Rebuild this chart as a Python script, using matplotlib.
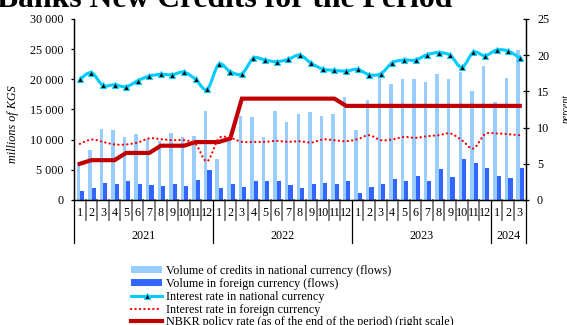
import matplotlib
matplotlib.use("Agg")
import matplotlib.pyplot as plt
from matplotlib.path import Path
from matplotlib.patches import PathPatch, Patch
from matplotlib.lines import Line2D
from matplotlib.transforms import blended_transform_factory
from matplotlib.ticker import FuncFormatter

plt.rcParams["font.family"] = ["Liberation Serif", "DejaVu Serif"]

# ---- data -------------------------------------------------------------
years = ["2021", "2022", "2023", "2024"]
months_per_year = [12, 12, 12, 3]
month_labels = [str(m) for n in months_per_year for m in range(1, n + 1)]

# new credits, millions of KGS
credits_national = [
    6200, 8370, 11740, 11580, 10360, 10900, 10100, 9800, 11100, 10470, 10580, 14700,
    6760, 10300, 13900, 13750, 10500, 14700, 13000, 14200, 14600, 13900, 14200, 17000,
    11650, 16500, 21000, 19200, 20050, 20050, 19500, 20900, 20000, 21200, 18060, 22200,
    16300, 20200, 24900,
]
credits_foreign = [
    1560, 2000, 2770, 2660, 3160, 2720, 2440, 2330, 2600, 2330, 3390, 4980,
    1940, 2600, 2220, 3160, 3100, 3160, 2550, 2000, 2660, 2900, 2600, 3200,
    1200, 2100, 2600, 3440, 3130, 3920, 3190, 5100, 3890, 6760, 6070, 5380,
    3920, 3600, 5270,
]

# interest rates, percent
rate_national = [
    16.66, 17.58, 15.83, 15.92, 15.64, 16.47, 17.12, 17.35, 17.30, 17.67, 16.66, 15.28,
    18.73, 17.71, 17.44, 19.57, 19.33, 19.10, 19.43, 20.02, 18.87, 18.08, 17.90, 17.81,
    18.04, 17.30, 17.44, 18.96, 19.33, 19.33, 20.07, 20.35, 19.98, 18.32, 20.40, 19.93,
    20.71, 20.58, 19.61,
]
rate_foreign = [
    7.75, 8.36, 8.03, 7.67, 7.67, 7.94, 8.52, 8.40, 8.26, 8.26, 7.75, 5.35,
    8.50, 8.58, 8.03, 8.03, 8.03, 8.17, 8.03, 8.12, 7.94, 8.36, 8.26, 8.12,
    8.40, 8.95, 8.26, 8.36, 8.72, 8.58, 8.81, 8.95, 9.19, 8.26, 7.11, 9.09,
    9.19, 9.09, 8.95,
]
policy_rate = [
    5.0, 5.5, 5.5, 5.5, 6.5, 6.5, 6.5, 7.5, 7.5, 7.5, 8.0, 8.0,
    8.0, 8.5, 14.0, 14.0, 14.0, 14.0, 14.0, 14.0, 14.0, 14.0, 14.0, 13.0,
    13.0, 13.0, 13.0, 13.0, 13.0, 13.0, 13.0, 13.0, 13.0, 13.0, 13.0, 13.0,
    13.0, 13.0, 13.0,
]

legend_labels = [
    "Volume of credits in national currency (flows)",
    "Volume in foreign currency (flows)",
    "Interest rate in national currency",
    "Interest rate in foreign currency",
    "NBKR policy rate (as of the end of the period) (right scale)",
]

# ---- styling ----------------------------------------------------------
C_LIGHT = "#99CCFF"
C_DARK = "#3366FF"
C_CYAN = "#00CCFF"
C_RED = "#FF0000"
C_POLICY = "#C00000"
FS = 8.7

W, H = 567, 325
fig = plt.figure(figsize=(W / 100, H / 100), dpi=100)

ax_l, ax_r, ax_t, ax_b = 74, 525.5, 19, 200
ax1 = fig.add_axes([ax_l / W, (H - ax_b) / H, (ax_r - ax_l) / W, (ax_b - ax_t) / H])
ax2 = ax1.twinx()

n = len(credits_national)
x = list(range(n))

# bars (left scale)
ax1.bar([i - 0.13 for i in x], credits_national, width=0.30, color=C_LIGHT, zorder=2)
ax1.bar([i + 0.20 for i in x], credits_foreign, width=0.36, color=C_DARK, zorder=2)
ax1.set_xlim(-0.5, n - 0.5)
ax1.set_ylim(0, 30000)
ax1.set_yticks(range(0, 30001, 5000))
ax1.yaxis.set_major_formatter(FuncFormatter(lambda v, p: f"{int(v):,}".replace(",", " ")))
ax1.set_xticks([])
ax1.tick_params(axis="y", direction="out", length=2.4, width=0.9, pad=5.3, labelsize=FS)

ax2.set_ylim(0, 25)
ax2.set_yticks(range(0, 26, 5))
ax2.tick_params(axis="y", direction="inout", length=4.5, width=0.9, pad=6.0, labelsize=FS)

for a in (ax1, ax2):
    a.spines["top"].set_visible(False)
    for s in ("left", "right", "bottom"):
        a.spines[s].set_linewidth(0.9)
        a.spines[s].set_color("black")
    a.patch.set_visible(False)


def smooth_path(xs, ys):
    """Cubic Bezier path through the points (Catmull-Rom style tangents)."""
    pts = list(zip(xs, ys))
    verts = [pts[0]]
    codes = [Path.MOVETO]
    for i in range(len(pts) - 1):
        p0 = pts[i - 1] if i > 0 else pts[i]
        p1 = pts[i]
        p2 = pts[i + 1]
        p3 = pts[i + 2] if i + 2 < len(pts) else pts[i + 1]
        c1 = (p1[0] + (p2[0] - p0[0]) / 6, p1[1] + (p2[1] - p0[1]) / 6)
        c2 = (p2[0] - (p3[0] - p1[0]) / 6, p2[1] - (p3[1] - p1[1]) / 6)
        verts += [c1, c2, p2]
        codes += [Path.CURVE4] * 3
    return Path(verts, codes)


# rate lines (right scale)
ax2.plot(x, policy_rate, color=C_POLICY, lw=3.0, solid_joinstyle="miter", zorder=3)

fp = PathPatch(smooth_path(x, rate_foreign), fill=False, edgecolor=C_RED, lw=1.6,
               linestyle=(0, (0.1, 1.9)), capstyle="round", zorder=4)
ax2.add_patch(fp)

npatch = PathPatch(smooth_path(x, rate_national), fill=False, edgecolor=C_CYAN,
                   lw=2.2, zorder=5)
ax2.add_patch(npatch)
ax2.plot(x, rate_national, linestyle="none", marker="^", markersize=4.5,
         markerfacecolor="black", markeredgecolor=C_CYAN, markeredgewidth=0.8, zorder=6)

# category axis: month numbers, separators, years
tr = blended_transform_factory(ax1.transData, ax1.transAxes)
hpx = ax_b - ax_t
for i, lab in enumerate(month_labels):
    ax1.text(i, -13 / hpx, lab, transform=tr, ha="center", va="center", fontsize=FS)

boundaries = []
start = 0
for cnt in months_per_year:
    boundaries.append(start)
    start += cnt
boundaries.append(start)

year_edges = set(boundaries)
for b in range(n + 1):
    xb = b - 0.5
    if b in year_edges:
        ax1.plot([xb, xb], [0, -43 / hpx], transform=tr, color="black", lw=0.9,
                 clip_on=False, zorder=1)
    else:
        ax1.plot([xb, xb], [0, -20 / hpx], transform=tr, color="#7F7F7F", lw=1.4,
                 clip_on=False, zorder=1)

for yr, s0, s1 in zip(years, boundaries[:-1], boundaries[1:]):
    ax1.text((s0 + s1 - 1) / 2, -36 / hpx, yr, transform=tr, ha="center",
             va="center", fontsize=FS)

# titles
fig.text(-3 / W, 1 - 7 / H, "Banks New Credits for the Period", fontsize=22.8,
         fontweight="bold", ha="left", va="baseline")
fig.text(13 / W, 1 - 124 / H, "millions of KGS", rotation=90, style="italic",
         fontsize=FS, ha="center", va="center")
fig.text(563 / W, 1 - 110 / H, "percent", rotation=90, style="italic",
         fontsize=7, ha="left", va="center")

# legend
handles = [
    Patch(facecolor=C_LIGHT, edgecolor="none"),
    Patch(facecolor=C_DARK, edgecolor="none"),
    Line2D([], [], color=C_CYAN, lw=2.2, marker="^", markersize=4.5,
           markerfacecolor="black", markeredgecolor=C_CYAN, markeredgewidth=0.8),
    Line2D([], [], color=C_RED, lw=1.6, linestyle=(0, (0.1, 1.9)),
           dash_capstyle="round"),
    Line2D([], [], color=C_POLICY, lw=3.0),
]
fig.legend(handles, legend_labels, loc="upper left",
           bbox_to_anchor=(131 / W, (H - 265) / H), frameon=False, borderpad=0,
           borderaxespad=0, handlelength=2.6, handleheight=0.55, handletextpad=0.33,
           labelspacing=0.07, numpoints=1, fontsize=FS)

fig.savefig("out.png", dpi=100)
